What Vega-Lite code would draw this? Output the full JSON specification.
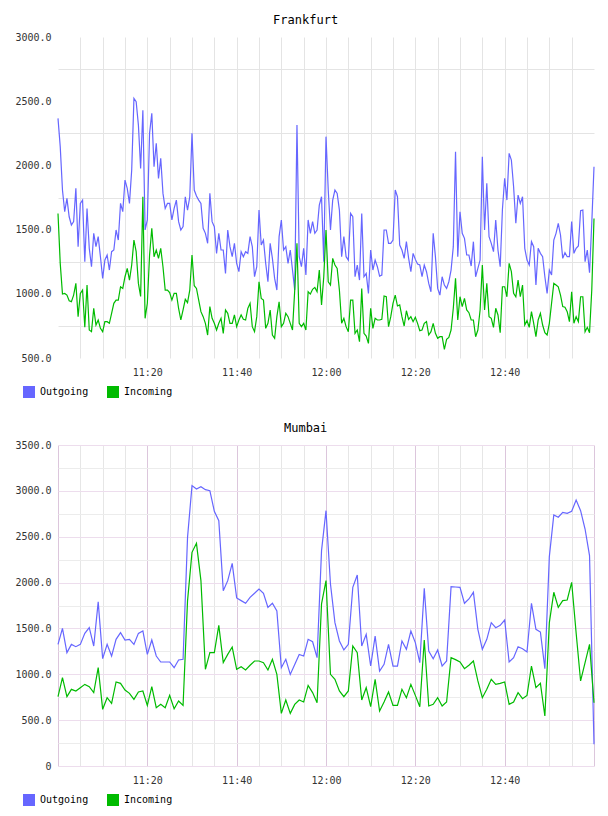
{
  "$schema": "https://vega.github.io/schema/vega-lite/v6.json",
  "padding": {"left": 14, "top": 14, "right": 10, "bottom": 4},
  "spacing": 15,
  "config": {
    "view": {"stroke": null},
    "axis": {"labelFont": "DejaVu Sans Mono", "labelFontSize": 10, "labelColor": "#333333", "ticks": false, "domain": false, "labelOverlap": false, "labelFlush": false, "labelBound": false},
    "title": {"font": "DejaVu Sans Mono", "fontSize": 12, "fontWeight": "normal", "color": "#000000", "frame": "bounds", "offset": 5},
    "legend": {"orient": "none", "legendX": -35, "legendY": 349, "padding": 0, "direction": "horizontal", "symbolType": "square", "symbolSize": 36, "symbolStrokeWidth": 6, "labelFont": "DejaVu Sans Mono", "labelFontSize": 10, "labelColor": "#000000", "labelOffset": 5, "columnPadding": 9}
  },
  "datasets": {
    "frankfurt": [
      {"m":0,"Outgoing":2366,"Incoming":1626},{"m":0.5,"Outgoing":2146,"Incoming":1237},{"m":1,"Outgoing":1808,"Incoming":998},{"m":1.5,"Outgoing":1640,"Incoming":1003},
      {"m":2,"Outgoing":1743,"Incoming":990},{"m":2.5,"Outgoing":1600,"Incoming":946},{"m":3,"Outgoing":1536,"Incoming":939},{"m":3.5,"Outgoing":1562,"Incoming":990},
      {"m":4,"Outgoing":1821,"Incoming":1081},{"m":4.5,"Outgoing":1367,"Incoming":822},{"m":5,"Outgoing":1704,"Incoming":1003},{"m":5.5,"Outgoing":1730,"Incoming":1029},
      {"m":6,"Outgoing":1250,"Incoming":739},{"m":6.5,"Outgoing":1665,"Incoming":1068},{"m":7,"Outgoing":1354,"Incoming":718},{"m":7.5,"Outgoing":1211,"Incoming":705},
      {"m":8,"Outgoing":1471,"Incoming":887},{"m":8.5,"Outgoing":1367,"Incoming":757},{"m":9,"Outgoing":1445,"Incoming":796},{"m":9.5,"Outgoing":1289,"Incoming":731},
      {"m":10,"Outgoing":1120,"Incoming":705},{"m":10.5,"Outgoing":1263,"Incoming":783},{"m":11,"Outgoing":1302,"Incoming":783},{"m":11.5,"Outgoing":1185,"Incoming":770},
      {"m":12,"Outgoing":1328,"Incoming":848},{"m":12.5,"Outgoing":1341,"Incoming":926},{"m":13,"Outgoing":1497,"Incoming":951},{"m":13.5,"Outgoing":1419,"Incoming":951},
      {"m":14,"Outgoing":1704,"Incoming":1055},{"m":14.5,"Outgoing":1640,"Incoming":1042},{"m":15,"Outgoing":1886,"Incoming":1133},{"m":15.5,"Outgoing":1821,"Incoming":1198},
      {"m":16,"Outgoing":1704,"Incoming":1107},{"m":16.5,"Outgoing":1964,"Incoming":1224},{"m":17,"Outgoing":2522,"Incoming":1419},{"m":17.5,"Outgoing":2496,"Incoming":1328},
      {"m":18,"Outgoing":2314,"Incoming":1081},{"m":18.5,"Outgoing":1977,"Incoming":980},{"m":19,"Outgoing":2430,"Incoming":1756},{"m":19.5,"Outgoing":1497,"Incoming":809},
      {"m":20,"Outgoing":1575,"Incoming":926},{"m":20.5,"Outgoing":2250,"Incoming":1302},{"m":21,"Outgoing":2405,"Incoming":1510},{"m":21.5,"Outgoing":1990,"Incoming":1289},
      {"m":22,"Outgoing":2172,"Incoming":1341},{"m":22.5,"Outgoing":1899,"Incoming":1276},{"m":23,"Outgoing":2055,"Incoming":1354},{"m":23.5,"Outgoing":1782,"Incoming":1211},
      {"m":24,"Outgoing":1665,"Incoming":1029},{"m":24.5,"Outgoing":1704,"Incoming":1029},{"m":25,"Outgoing":1704,"Incoming":1009},{"m":25.5,"Outgoing":1575,"Incoming":951},
      {"m":26,"Outgoing":1665,"Incoming":1003},{"m":26.5,"Outgoing":1730,"Incoming":1003},{"m":27,"Outgoing":1562,"Incoming":887},{"m":27.5,"Outgoing":1497,"Incoming":796},
      {"m":28,"Outgoing":1523,"Incoming":874},{"m":28.5,"Outgoing":1756,"Incoming":957},{"m":29,"Outgoing":1652,"Incoming":931},{"m":29.5,"Outgoing":1756,"Incoming":1029},
      {"m":30,"Outgoing":2250,"Incoming":1302},{"m":30.5,"Outgoing":1808,"Incoming":1063},{"m":31,"Outgoing":1762,"Incoming":1042},{"m":31.5,"Outgoing":1730,"Incoming":951},
      {"m":32,"Outgoing":1704,"Incoming":861},{"m":32.5,"Outgoing":1510,"Incoming":822},{"m":33,"Outgoing":1471,"Incoming":770},{"m":33.5,"Outgoing":1393,"Incoming":679},
      {"m":34,"Outgoing":1782,"Incoming":900},{"m":34.5,"Outgoing":1562,"Incoming":809},{"m":35,"Outgoing":1523,"Incoming":770},{"m":35.5,"Outgoing":1315,"Incoming":718},
      {"m":36,"Outgoing":1471,"Incoming":770},{"m":36.5,"Outgoing":1341,"Incoming":809},{"m":37,"Outgoing":1341,"Incoming":692},{"m":37.5,"Outgoing":1159,"Incoming":874},
      {"m":38,"Outgoing":1497,"Incoming":848},{"m":38.5,"Outgoing":1367,"Incoming":770},{"m":39,"Outgoing":1289,"Incoming":770},{"m":39.5,"Outgoing":1393,"Incoming":835},
      {"m":40,"Outgoing":1237,"Incoming":744},{"m":40.5,"Outgoing":1172,"Incoming":796},{"m":41,"Outgoing":1328,"Incoming":835},{"m":41.5,"Outgoing":1289,"Incoming":801},
      {"m":42,"Outgoing":1328,"Incoming":796},{"m":42.5,"Outgoing":1315,"Incoming":887},{"m":43,"Outgoing":1445,"Incoming":926},{"m":43.5,"Outgoing":1367,"Incoming":744},
      {"m":44,"Outgoing":1133,"Incoming":705},{"m":44.5,"Outgoing":1211,"Incoming":822},{"m":45,"Outgoing":1652,"Incoming":1094},{"m":45.5,"Outgoing":1380,"Incoming":964},
      {"m":46,"Outgoing":1419,"Incoming":951},{"m":46.5,"Outgoing":1237,"Incoming":731},{"m":47,"Outgoing":1094,"Incoming":770},{"m":47.5,"Outgoing":1393,"Incoming":874},
      {"m":48,"Outgoing":1276,"Incoming":679},{"m":48.5,"Outgoing":1120,"Incoming":653},{"m":49,"Outgoing":1029,"Incoming":822},{"m":49.5,"Outgoing":1445,"Incoming":938},
      {"m":50,"Outgoing":1575,"Incoming":744},{"m":50.5,"Outgoing":1341,"Incoming":770},{"m":51,"Outgoing":1367,"Incoming":848},{"m":51.5,"Outgoing":1237,"Incoming":822},
      {"m":52,"Outgoing":1341,"Incoming":770},{"m":52.5,"Outgoing":1185,"Incoming":718},{"m":53,"Outgoing":1029,"Incoming":1029},{"m":53.5,"Outgoing":2314,"Incoming":1393},
      {"m":54,"Outgoing":1289,"Incoming":770},{"m":54.5,"Outgoing":1211,"Incoming":744},{"m":55,"Outgoing":1354,"Incoming":770},{"m":55.5,"Outgoing":1146,"Incoming":718},
      {"m":56,"Outgoing":1575,"Incoming":1016},{"m":56.5,"Outgoing":1471,"Incoming":998},{"m":57,"Outgoing":1562,"Incoming":1035},{"m":57.5,"Outgoing":1471,"Incoming":1050},
      {"m":58,"Outgoing":1497,"Incoming":1016},{"m":58.5,"Outgoing":1691,"Incoming":1185},{"m":59,"Outgoing":1756,"Incoming":913},{"m":59.5,"Outgoing":1250,"Incoming":1133},
      {"m":60,"Outgoing":2224,"Incoming":1497},{"m":60.5,"Outgoing":1808,"Incoming":1094},{"m":61,"Outgoing":1497,"Incoming":1068},{"m":61.5,"Outgoing":1730,"Incoming":1276},
      {"m":62,"Outgoing":1808,"Incoming":1224},{"m":62.5,"Outgoing":1782,"Incoming":1198},{"m":63,"Outgoing":1652,"Incoming":1029},{"m":63.5,"Outgoing":1289,"Incoming":770},
      {"m":64,"Outgoing":1445,"Incoming":809},{"m":64.5,"Outgoing":1289,"Incoming":744},{"m":65,"Outgoing":1263,"Incoming":705},{"m":65.5,"Outgoing":1626,"Incoming":951},
      {"m":66,"Outgoing":1600,"Incoming":951},{"m":66.5,"Outgoing":1133,"Incoming":692},{"m":67,"Outgoing":1224,"Incoming":718},{"m":67.5,"Outgoing":1107,"Incoming":627},
      {"m":68,"Outgoing":1626,"Incoming":1042},{"m":68.5,"Outgoing":1133,"Incoming":692},{"m":69,"Outgoing":1159,"Incoming":671},{"m":69.5,"Outgoing":1003,"Incoming":614},
      {"m":70,"Outgoing":1341,"Incoming":887},{"m":70.5,"Outgoing":1185,"Incoming":731},{"m":71,"Outgoing":1263,"Incoming":809},{"m":71.5,"Outgoing":1211,"Incoming":796},
      {"m":72,"Outgoing":1138,"Incoming":796},{"m":72.5,"Outgoing":1146,"Incoming":801},{"m":73,"Outgoing":1497,"Incoming":983},{"m":73.5,"Outgoing":1497,"Incoming":977},
      {"m":74,"Outgoing":1393,"Incoming":744},{"m":74.5,"Outgoing":1393,"Incoming":822},{"m":75,"Outgoing":1419,"Incoming":926},{"m":75.5,"Outgoing":1808,"Incoming":990},
      {"m":76,"Outgoing":1756,"Incoming":905},{"m":76.5,"Outgoing":1380,"Incoming":913},{"m":77,"Outgoing":1341,"Incoming":822},{"m":77.5,"Outgoing":1276,"Incoming":749},
      {"m":78,"Outgoing":1406,"Incoming":868},{"m":78.5,"Outgoing":1276,"Incoming":801},{"m":79,"Outgoing":1172,"Incoming":822},{"m":79.5,"Outgoing":1315,"Incoming":783},
      {"m":80,"Outgoing":1268,"Incoming":817},{"m":80.5,"Outgoing":1232,"Incoming":770},{"m":81,"Outgoing":1224,"Incoming":713},{"m":81.5,"Outgoing":1133,"Incoming":718},
      {"m":82,"Outgoing":1224,"Incoming":770},{"m":82.5,"Outgoing":1172,"Incoming":783},{"m":83,"Outgoing":1081,"Incoming":679},{"m":83.5,"Outgoing":1016,"Incoming":705},
      {"m":84,"Outgoing":1471,"Incoming":770},{"m":84.5,"Outgoing":1289,"Incoming":692},{"m":85,"Outgoing":1042,"Incoming":653},{"m":85.5,"Outgoing":990,"Incoming":666},
      {"m":86,"Outgoing":1133,"Incoming":666},{"m":86.5,"Outgoing":1068,"Incoming":567},{"m":87,"Outgoing":1042,"Incoming":645},{"m":87.5,"Outgoing":1094,"Incoming":661},
      {"m":88,"Outgoing":1185,"Incoming":718},{"m":88.5,"Outgoing":1367,"Incoming":887},{"m":89,"Outgoing":2107,"Incoming":1120},{"m":89.5,"Outgoing":1289,"Incoming":796},
      {"m":90,"Outgoing":1639,"Incoming":977},{"m":90.5,"Outgoing":1471,"Incoming":900},{"m":91,"Outgoing":1432,"Incoming":964},{"m":91.5,"Outgoing":1302,"Incoming":874},
      {"m":92,"Outgoing":1302,"Incoming":853},{"m":92.5,"Outgoing":1216,"Incoming":796},{"m":93,"Outgoing":1406,"Incoming":796},{"m":93.5,"Outgoing":1133,"Incoming":666},
      {"m":94,"Outgoing":1198,"Incoming":718},{"m":94.5,"Outgoing":1263,"Incoming":874},{"m":95,"Outgoing":2068,"Incoming":1224},{"m":95.5,"Outgoing":1497,"Incoming":874},
      {"m":96,"Outgoing":1860,"Incoming":1081},{"m":96.5,"Outgoing":1445,"Incoming":822},{"m":97,"Outgoing":1393,"Incoming":809},{"m":97.5,"Outgoing":1328,"Incoming":739},
      {"m":98,"Outgoing":1575,"Incoming":887},{"m":98.5,"Outgoing":1341,"Incoming":835},{"m":99,"Outgoing":1211,"Incoming":697},{"m":99.5,"Outgoing":1658,"Incoming":1055},
      {"m":100,"Outgoing":1899,"Incoming":1055},{"m":100.5,"Outgoing":1730,"Incoming":977},{"m":101,"Outgoing":2094,"Incoming":1237},{"m":101.5,"Outgoing":2042,"Incoming":1172},
      {"m":102,"Outgoing":1834,"Incoming":1003},{"m":102.5,"Outgoing":1549,"Incoming":977},{"m":103,"Outgoing":1769,"Incoming":1107},{"m":103.5,"Outgoing":1704,"Incoming":977},
      {"m":104,"Outgoing":1756,"Incoming":1068},{"m":104.5,"Outgoing":1354,"Incoming":757},{"m":105,"Outgoing":1263,"Incoming":791},{"m":105.5,"Outgoing":1224,"Incoming":739},
      {"m":106,"Outgoing":1406,"Incoming":861},{"m":106.5,"Outgoing":1367,"Incoming":770},{"m":107,"Outgoing":1068,"Incoming":666},{"m":107.5,"Outgoing":1354,"Incoming":796},
      {"m":108,"Outgoing":1315,"Incoming":848},{"m":108.5,"Outgoing":1289,"Incoming":757},{"m":109,"Outgoing":1133,"Incoming":697},{"m":109.5,"Outgoing":1003,"Incoming":679},
      {"m":110,"Outgoing":1185,"Incoming":770},{"m":110.5,"Outgoing":1146,"Incoming":926},{"m":111,"Outgoing":1419,"Incoming":1081},{"m":111.5,"Outgoing":1471,"Incoming":1068},
      {"m":112,"Outgoing":1549,"Incoming":1055},{"m":112.5,"Outgoing":1458,"Incoming":990},{"m":113,"Outgoing":1276,"Incoming":900},{"m":113.5,"Outgoing":1320,"Incoming":895},
      {"m":114,"Outgoing":1289,"Incoming":861},{"m":114.5,"Outgoing":1289,"Incoming":783},{"m":115,"Outgoing":1562,"Incoming":1016},{"m":115.5,"Outgoing":1315,"Incoming":770},
      {"m":116,"Outgoing":1354,"Incoming":822},{"m":116.5,"Outgoing":1372,"Incoming":783},{"m":117,"Outgoing":1647,"Incoming":977},{"m":117.5,"Outgoing":1652,"Incoming":977},
      {"m":118,"Outgoing":1250,"Incoming":705},{"m":118.5,"Outgoing":1341,"Incoming":739},{"m":119,"Outgoing":1164,"Incoming":697},{"m":119.5,"Outgoing":1549,"Incoming":1029},
      {"m":120,"Outgoing":1990,"Incoming":1587}
    ],
    "mumbai": [
      {"m":0,"Outgoing":1326,"Incoming":756},{"m":1,"Outgoing":1501,"Incoming":963},{"m":2,"Outgoing":1236,"Incoming":756},{"m":3,"Outgoing":1326,"Incoming":836},
      {"m":4,"Outgoing":1301,"Incoming":818},{"m":5,"Outgoing":1326,"Incoming":854},{"m":6,"Outgoing":1446,"Incoming":890},{"m":7,"Outgoing":1508,"Incoming":865},
      {"m":8,"Outgoing":1308,"Incoming":800},{"m":9,"Outgoing":1790,"Incoming":1072},{"m":10,"Outgoing":1170,"Incoming":618},{"m":11,"Outgoing":1326,"Incoming":745},
      {"m":12,"Outgoing":1199,"Incoming":683},{"m":13,"Outgoing":1381,"Incoming":916},{"m":14,"Outgoing":1454,"Incoming":901},{"m":15,"Outgoing":1374,"Incoming":829},
      {"m":16,"Outgoing":1381,"Incoming":792},{"m":17,"Outgoing":1326,"Incoming":727},{"m":18,"Outgoing":1446,"Incoming":807},{"m":19,"Outgoing":1472,"Incoming":818},
      {"m":20,"Outgoing":1217,"Incoming":661},{"m":21,"Outgoing":1374,"Incoming":865},{"m":22,"Outgoing":1199,"Incoming":636},{"m":23,"Outgoing":1134,"Incoming":672},
      {"m":24,"Outgoing":1134,"Incoming":636},{"m":25,"Outgoing":1134,"Incoming":770},{"m":26,"Outgoing":1072,"Incoming":625},{"m":27,"Outgoing":1156,"Incoming":709},
      {"m":28,"Outgoing":1163,"Incoming":661},{"m":29,"Outgoing":2493,"Incoming":1800},{"m":30,"Outgoing":3057,"Incoming":2330},{"m":31,"Outgoing":3020,"Incoming":2428},
      {"m":32,"Outgoing":3046,"Incoming":2021},{"m":33,"Outgoing":3013,"Incoming":1054},{"m":34,"Outgoing":3002,"Incoming":1236},{"m":35,"Outgoing":2777,"Incoming":1236},
      {"m":36,"Outgoing":2675,"Incoming":1534},{"m":37,"Outgoing":1912,"Incoming":1127},{"m":38,"Outgoing":2021,"Incoming":1217},{"m":39,"Outgoing":2210,"Incoming":1297},
      {"m":40,"Outgoing":1832,"Incoming":1054},{"m":41,"Outgoing":1803,"Incoming":1083},{"m":42,"Outgoing":1774,"Incoming":1047},{"m":43,"Outgoing":1839,"Incoming":1098},
      {"m":44,"Outgoing":1883,"Incoming":1145},{"m":45,"Outgoing":1930,"Incoming":1145},{"m":46,"Outgoing":1883,"Incoming":1127},{"m":47,"Outgoing":1730,"Incoming":1047},
      {"m":48,"Outgoing":1774,"Incoming":1163},{"m":49,"Outgoing":1690,"Incoming":999},{"m":50,"Outgoing":1072,"Incoming":574},{"m":51,"Outgoing":1163,"Incoming":720},
      {"m":52,"Outgoing":999,"Incoming":574},{"m":53,"Outgoing":1108,"Incoming":672},{"m":54,"Outgoing":1217,"Incoming":720},{"m":55,"Outgoing":1199,"Incoming":698},
      {"m":56,"Outgoing":1381,"Incoming":879},{"m":57,"Outgoing":1355,"Incoming":800},{"m":58,"Outgoing":1181,"Incoming":690},{"m":59,"Outgoing":2348,"Incoming":1767},
      {"m":60,"Outgoing":2784,"Incoming":2021},{"m":61,"Outgoing":1985,"Incoming":999},{"m":62,"Outgoing":1563,"Incoming":945},{"m":63,"Outgoing":1363,"Incoming":818},
      {"m":64,"Outgoing":1265,"Incoming":756},{"m":65,"Outgoing":1326,"Incoming":818},{"m":66,"Outgoing":1948,"Incoming":1308},{"m":67,"Outgoing":2083,"Incoming":1236},
      {"m":68,"Outgoing":1308,"Incoming":720},{"m":69,"Outgoing":1435,"Incoming":854},{"m":70,"Outgoing":1090,"Incoming":647},{"m":71,"Outgoing":1417,"Incoming":945},
      {"m":72,"Outgoing":1036,"Incoming":600},{"m":73,"Outgoing":1108,"Incoming":698},{"m":74,"Outgoing":1326,"Incoming":807},{"m":75,"Outgoing":1090,"Incoming":661},
      {"m":76,"Outgoing":1090,"Incoming":661},{"m":77,"Outgoing":1363,"Incoming":836},{"m":78,"Outgoing":1272,"Incoming":745},{"m":79,"Outgoing":1472,"Incoming":890},
      {"m":80,"Outgoing":1345,"Incoming":770},{"m":81,"Outgoing":1127,"Incoming":647},{"m":82,"Outgoing":1937,"Incoming":1374},{"m":83,"Outgoing":1254,"Incoming":654},
      {"m":84,"Outgoing":1170,"Incoming":672},{"m":85,"Outgoing":1265,"Incoming":745},{"m":86,"Outgoing":1090,"Incoming":654},{"m":87,"Outgoing":1145,"Incoming":698},
      {"m":88,"Outgoing":1956,"Incoming":1181},{"m":89,"Outgoing":1952,"Incoming":1160},{"m":90,"Outgoing":1948,"Incoming":1134},{"m":91,"Outgoing":1774,"Incoming":1061},
      {"m":92,"Outgoing":1821,"Incoming":1098},{"m":93,"Outgoing":1894,"Incoming":1145},{"m":94,"Outgoing":1490,"Incoming":927},{"m":95,"Outgoing":1272,"Incoming":745},
      {"m":96,"Outgoing":1381,"Incoming":836},{"m":97,"Outgoing":1563,"Incoming":945},{"m":98,"Outgoing":1508,"Incoming":890},{"m":99,"Outgoing":1534,"Incoming":901},
      {"m":100,"Outgoing":1592,"Incoming":916},{"m":101,"Outgoing":1134,"Incoming":672},{"m":102,"Outgoing":1181,"Incoming":698},{"m":103,"Outgoing":1301,"Incoming":800},
      {"m":104,"Outgoing":1279,"Incoming":734},{"m":105,"Outgoing":1243,"Incoming":770},{"m":106,"Outgoing":1774,"Incoming":1090},{"m":107,"Outgoing":1490,"Incoming":854},
      {"m":108,"Outgoing":1461,"Incoming":901},{"m":109,"Outgoing":1061,"Incoming":545},{"m":110,"Outgoing":2283,"Incoming":1563},{"m":111,"Outgoing":2737,"Incoming":1894},
      {"m":112,"Outgoing":2712,"Incoming":1730},{"m":113,"Outgoing":2766,"Incoming":1803},{"m":114,"Outgoing":2755,"Incoming":1810},{"m":115,"Outgoing":2777,"Incoming":2003},
      {"m":116,"Outgoing":2900,"Incoming":1450},{"m":117,"Outgoing":2784,"Incoming":927},{"m":118,"Outgoing":2584,"Incoming":1127},{"m":119,"Outgoing":2294,"Incoming":1326},
      {"m":120,"Outgoing":236,"Incoming":690}
    ]
  },
  "resolve": {"legend": {"color": "independent"}},
  "vconcat": [
    {
      "title": "Frankfurt",
      "width": 536,
      "height": 321,
      "data": {"name": "frankfurt"},
      "transform": [{"fold": ["Outgoing", "Incoming"], "as": ["series", "value"]}],
      "mark": {"type": "line", "strokeWidth": 1.2},
      "encoding": {
        "x": {
          "field": "m",
          "type": "quantitative",
          "scale": {"domain": [0, 120], "nice": false, "zero": false},
          "axis": {
            "title": null,
            "values": [0, 5, 10, 15, 20, 25, 30, 35, 40, 45, 50, 55, 60, 65, 70, 75, 80, 85, 90, 95, 100, 105, 110, 115, 120],
            "labelExpr": "(datum.value % 20 === 0 && datum.value > 0 && datum.value < 120) ? (11 + floor(datum.value / 60)) + ':' + format(datum.value % 60, '02d') : ''",
            "labelPadding": 9,
            "grid": true,
            "gridColor": {"condition": {"test": "datum.value === 0 || datum.value === 120", "value": "transparent"}, "value": "#e4e4e4"}
          }
        },
        "y": {
          "field": "value",
          "type": "quantitative",
          "scale": {"domain": [500, 3000], "nice": false, "zero": false},
          "axis": {
            "title": null,
            "values": [500, 750, 1000, 1250, 1500, 1750, 2000, 2250, 2500, 2750, 3000],
            "labelExpr": "datum.value % 500 === 0 ? format(datum.value, '.1f') : ''",
            "labelPadding": 7,
            "grid": true,
            "gridColor": {"condition": {"test": "datum.value % 500 === 0", "value": "transparent"}, "value": "#e4e4e4"}
          }
        },
        "color": {
          "field": "series",
          "type": "nominal",
          "scale": {"domain": ["Outgoing", "Incoming"], "range": ["#6666ff", "#00bb00"]},
          "legend": {"title": null}
        }
      }
    },
    {
      "title": "Mumbai",
      "width": 536,
      "height": 321,
      "data": {"name": "mumbai"},
      "transform": [{"fold": ["Outgoing", "Incoming"], "as": ["series", "value"]}],
      "mark": {"type": "line", "strokeWidth": 1.2},
      "encoding": {
        "x": {
          "field": "m",
          "type": "quantitative",
          "scale": {"domain": [0, 120], "nice": false, "zero": false},
          "axis": {
            "title": null,
            "values": [0, 5, 10, 15, 20, 25, 30, 35, 40, 45, 50, 55, 60, 65, 70, 75, 80, 85, 90, 95, 100, 105, 110, 115, 120],
            "labelExpr": "(datum.value % 20 === 0 && datum.value > 0 && datum.value < 120) ? (11 + floor(datum.value / 60)) + ':' + format(datum.value % 60, '02d') : ''",
            "labelPadding": 9,
            "grid": true,
            "gridColor": {"condition": {"test": "datum.value % 20 === 0", "value": "#dcc6dc"}, "value": "#e6e6e6"}
          }
        },
        "y": {
          "field": "value",
          "type": "quantitative",
          "scale": {"domain": [0, 3500], "nice": false},
          "axis": {
            "title": null,
            "values": [0, 250, 500, 750, 1000, 1250, 1500, 1750, 2000, 2250, 2500, 2750, 3000, 3250, 3500],
            "labelExpr": "datum.value % 500 === 0 ? (datum.value === 0 ? '0' : format(datum.value, '.1f')) : ''",
            "labelPadding": 7,
            "grid": true,
            "gridColor": {"condition": {"test": "datum.value % 500 === 0", "value": "#eddded"}, "value": "#ececec"}
          }
        },
        "color": {
          "field": "series",
          "type": "nominal",
          "legend": {"title": null}
        }
      }
    }
  ]
}
